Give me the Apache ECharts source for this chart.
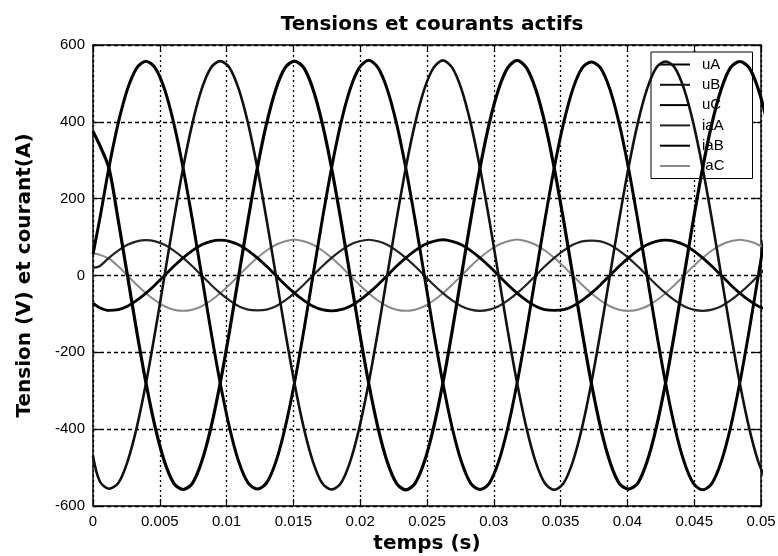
<!DOCTYPE html>
<html>
<head>
<meta charset="utf-8">
<script src="https://cdn.jsdelivr.net/npm/echarts@6/dist/echarts.min.js"></script>
<style>html,body{margin:0;padding:0;background:#fff}#c{width:778px;height:556px}</style>
</head>
<body>
<div id="c"></div>
<script>
// time samples (s)
const time = [0, 0.000494, 0.001189, 0.001883, 0.002578, 0.003272, 0.003967, 0.004661, 0.005356, 0.00605, 0.006744, 0.007439, 0.008133, 0.008828, 0.009522, 0.010217, 0.010911, 0.011606, 0.0123, 0.012994, 0.013689, 0.014383, 0.015078, 0.015772, 0.016467, 0.017161, 0.017856, 0.01855, 0.019244, 0.019939, 0.020633, 0.021328, 0.022022, 0.022717, 0.023411, 0.024106, 0.0248, 0.025494, 0.026189, 0.026883, 0.027578, 0.028272, 0.028967, 0.029661, 0.030356, 0.03105, 0.031744, 0.032439, 0.033133, 0.033828, 0.034522, 0.035217, 0.035911, 0.036606, 0.0373, 0.037994, 0.038689, 0.039383, 0.040078, 0.040772, 0.041467, 0.042161, 0.042856, 0.04355, 0.044244, 0.044939, 0.045633, 0.046328, 0.047022, 0.047717, 0.048411, 0.049106, 0.0498, 0.050494];

const uA = [55,
 145,280,396,485,540,558,540,485,396,280,145,0,-145,-280,-396,-485,-540,-556,-540,-485,-396,-280,-145,0,
 145,280,396,485,541,560,541,485,396,280,145,0,-145,-280,-396,-485,-541,-557,-541,-485,-396,-280,-145,0,
 145,280,396,485,540,556,540,485,396,280,145,0,-145,-280,-396,-485,-541,-558,-541,-485,-396,-280,-145,0,
 145];
const uB = [-470,
 -535,-555,-541,-485,-396,-280,-145,0,145,280,396,485,541,558,541,485,396,280,145,0,-145,-280,-396,-485,
 -541,-557,-541,-485,-396,-280,-145,0,145,280,396,485,541,560,541,485,396,280,145,0,-145,-280,-396,-485,
 -541,-558,-541,-485,-396,-280,-145,0,145,280,396,485,541,557,541,485,396,280,145,0,-145,-280,-396,-485,
 -541];
const uC = [375,
 340,280,145,0,-145,-280,-396,-485,-541,-557,-541,-485,-396,-280,-145,0,145,280,396,485,541,558,541,485,
 396,280,145,0,-145,-280,-396,-485,-541,-558,-541,-485,-396,-280,-145,0,145,280,396,485,541,560,541,485,
 396,280,145,0,-145,-280,-396,-485,-541,-556,-541,-485,-396,-280,-145,0,145,280,396,485,541,557,541,485,
 396];
const iaA = [20,
 24,46,65,80,89,92,89,80,65,46,24,0,-24,-46,-65,-80,-89,-91,-89,-80,-65,-46,-24,0,
 24,46,65,80,89,93,89,80,65,46,24,0,-24,-46,-65,-80,-89,-92,-89,-80,-65,-46,-24,0,
 24,46,65,80,89,91,89,80,65,46,24,0,-24,-46,-65,-80,-89,-92,-89,-80,-65,-46,-24,0,
 24];
const iaB = [-72,
 -84,-91,-89,-80,-65,-46,-24,0,24,46,65,80,89,92,89,80,65,46,24,0,-24,-46,-65,-80,
 -89,-92,-89,-80,-65,-46,-24,0,24,46,65,80,89,93,89,80,65,46,24,0,-24,-46,-65,-80,
 -89,-91,-89,-80,-65,-46,-24,0,24,46,65,80,89,92,89,80,65,46,24,0,-24,-46,-65,-80,
 -89];
const iaC = [58,
 54,44,24,0,-24,-46,-65,-80,-89,-92,-89,-80,-65,-46,-24,0,24,46,65,80,89,94,89,80,
 65,46,24,0,-24,-46,-65,-80,-89,-92,-89,-80,-65,-46,-24,0,24,46,65,80,89,94,89,80,
 65,46,24,0,-24,-46,-65,-80,-89,-92,-89,-80,-65,-46,-24,0,24,46,65,80,89,93,89,80,
 65];

const seriesNames = ['uA','uB','uC','iaA','iaB','iaC'];
const seriesValues = [uA,uB,uC,iaA,iaB,iaC];
const xTicks = {min:0, max:0.05, interval:0.005};
const yTicks = {min:-600, max:600, interval:200};

const styles = [
  {color:'#000', width:3, z:5},
  {color:'#111', width:2.6, z:5},
  {color:'#000', width:3.2, z:5},
  {color:'#222', width:2.2, z:4},
  {color:'#000', width:2.8, z:4},
  {color:'#8a8a8a', width:2, z:3}
];

const chart = echarts.init(document.getElementById('c'), null, {renderer:'canvas'});
const font = 'Liberation Sans, Arial, sans-serif';
const boldFont = 'DejaVu Sans, sans-serif';

const series = seriesNames.map((n,i)=>({
  name:n, type:'line', xAxisIndex:0, yAxisIndex:0,
  data: time.map((t,j)=>[t, seriesValues[i][j]]),
  showSymbol:false, symbol:'none', smooth:0.3, clip:true,
  z: styles[i].z,
  lineStyle:{color:styles[i].color, width:styles[i].width},
  itemStyle:{color:styles[i].color},
  animation:false
}));

const axisCommon = {
  axisLine:{show:true, onZero:false, lineStyle:{color:'#000', width:1.5}},
  axisTick:{show:true, inside:true, length:7, lineStyle:{color:'#000', width:1.2}}
};

chart.setOption({
  animation:false,
  backgroundColor:'#fff',
  title:{text:'Tensions et courants actifs', left:427, top:10, textAlign:'center',
    textStyle:{fontFamily:boldFont, fontWeight:'bold', fontSize:20, color:'#000'}},
  legend:{
    data:seriesNames, orient:'vertical', left:651, top:52,
    backgroundColor:'#fff', borderColor:'#000', borderWidth:1,
    padding:[5,28,5,9], itemWidth:30, itemHeight:14, itemGap:5.3,
    icon:'path://M0,6 L30,6 L30,8 L0,8 Z',
    formatter:(n)=>'{t|'+n+'}',
    textStyle:{fontFamily:font, fontSize:15, color:'#000',
      rich:{t:{fontFamily:font, fontSize:15, color:'#000', padding:[0,0,0,7]}}}
  },
  grid:{left:93, right:17, top:45, bottom:50, containLabel:false, outerBoundsMode:'none'},
  xAxis:[
    Object.assign({type:'value', position:'bottom', min:xTicks.min, max:xTicks.max, interval:xTicks.interval,
      name:'temps (s)', nameLocation:'middle', nameGap:27,
      nameTextStyle:{fontFamily:boldFont, fontWeight:'bold', fontSize:20, color:'#000'},
      axisLabel:{fontFamily:font, fontSize:15, color:'#000', margin:8},
      splitLine:{show:true, lineStyle:{color:'#000', width:1.3, type:[2,3]}}}, axisCommon),
    Object.assign({type:'value', position:'top', min:xTicks.min, max:xTicks.max, interval:xTicks.interval,
      axisLabel:{show:false}, splitLine:{show:false}}, axisCommon)
  ],
  yAxis:[
    Object.assign({type:'value', position:'left', min:yTicks.min, max:yTicks.max, interval:yTicks.interval,
      name:'Tension (V) et courant(A)', nameLocation:'middle', nameGap:58,
      nameTextStyle:{fontFamily:boldFont, fontWeight:'bold', fontSize:20, color:'#000'},
      axisLabel:{fontFamily:font, fontSize:15, color:'#000', margin:8},
      splitLine:{show:true, lineStyle:{color:'#000', width:1.3, type:[4,3]}}}, axisCommon),
    Object.assign({type:'value', position:'right', min:yTicks.min, max:yTicks.max, interval:yTicks.interval,
      axisLabel:{show:false}, splitLine:{show:false}}, axisCommon)
  ],
  series: series
});
</script>
</body>
</html>
